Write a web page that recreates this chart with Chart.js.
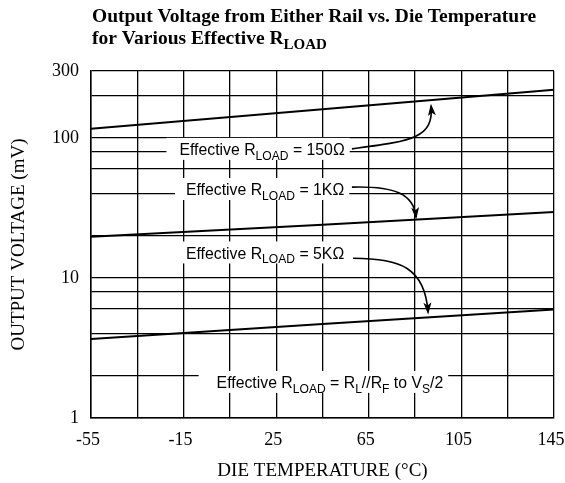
<!DOCTYPE html>
<html>
<head>
<meta charset="utf-8">
<script src="https://cdn.jsdelivr.net/npm/chart.js@4.4.0/dist/chart.umd.min.js"></script>
<style>
  body { margin: 0; background: #fff; }
  #wrap { width: 565px; height: 483px; }
</style>
</head>
<body>
<div id="wrap"><canvas id="railChart" width="565" height="483"></canvas></div>
<script>
// die temperature (°C) where each curve is read
const dieTemps = [-55, 45, 145];
// output voltage from either rail (mV)
const rload150 = [116, 160, 220];
const rload1k = [19.7, 24.0, 29.6];
const rload5k = [3.67, 4.68, 5.94];

const xGrid = [-55, -35, -15, 5, 25, 45, 65, 85, 105, 125, 145];
const xLabelled = [-55, -15, 25, 65, 105, 145];
const yGrid = [1, 2, 4, 6, 8, 10, 20, 40, 60, 80, 100, 200, 300];
const yLabelled = [1, 10, 100, 300];

const SERIF = '"Liberation Serif", "Times New Roman", serif';
const SANS = '"Liberation Sans", Arial, sans-serif';

// callout text pieces: [text, isSubscript]; positions in data units (°C, mV)
const callouts = [
  { parts: [['Effective R'], ['LOAD', true], [' = 150Ω']], at: [18.9, 83.4], pad: 13,
    arrow: [[57.7, 83.4], [82.8, 95.0], [93.2, 98.2], [91.9, 169.6]] },
  { parts: [['Effective R'], ['LOAD', true], [' = 1KΩ']], at: [20.2, 43.1], pad: 11,
    arrow: [[57.7, 44.5], [76.3, 45.3], [84.5, 39.7], [85.4, 27.1]] },
  { parts: [['Effective R'], ['LOAD', true], [' = 5KΩ']], at: [20.2, 15.2], pad: 11,
    arrow: [[58.2, 13.8], [78.5, 13.8], [89.3, 11.9], [90.6, 5.66]] },
  { parts: [['Effective R'], ['LOAD', true], [' = R'], ['L', true], ['//R'], ['F', true], [' to V'], ['S', true], ['/2']],
    at: [48.2, 1.81], pad: 18 }
];

// draws a run of text with subscripts (optionally squeezed sideways), returns its width
function drawParts(ctx, parts, x, y, size, weight, family, sx, measureOnly) {
  const fontOf = sub => `${weight} ${sub ? Math.round(size * 0.76) : size}px ${family}`;
  let cx = 0;
  ctx.save();
  ctx.translate(x, y);
  ctx.scale(sx, 1);
  ctx.textAlign = 'left';
  ctx.textBaseline = 'alphabetic';
  parts.forEach(([t, sub]) => {
    ctx.font = fontOf(sub);
    if (!measureOnly) ctx.fillText(t, cx, sub ? size * 0.27 : 0);
    cx += ctx.measureText(t).width;
  });
  ctx.restore();
  return cx * sx;
}

const calloutPlugin = {
  id: 'callouts',
  afterDraw(chart) {
    const ctx = chart.ctx;
    const xs = chart.scales.x, ys = chart.scales.y;
    const px = p => [xs.getPixelForValue(p[0]), ys.getPixelForValue(p[1])];
    ctx.save();
    ctx.fillStyle = '#000';

    // heading
    drawParts(ctx, [['Output Voltage from Either Rail vs. Die Temperature']], 92, 22, 19.5, 'bold', SERIF, 1);
    drawParts(ctx, [['for Various Effective R'], ['LOAD', true]], 92, 44, 19.5, 'bold', SERIF, 1);

    callouts.forEach(c => {
      const [cx, cy] = px(c.at);
      const size = 17, sx = 0.93;
      const w = drawParts(ctx, c.parts, 0, 0, size, 'normal', SANS, sx, true);
      const left = cx - w / 2;
      ctx.fillStyle = '#fff';
      ctx.fillRect(left - c.pad, cy - 11, w + c.pad + 5, 22);
      ctx.fillStyle = '#000';
      drawParts(ctx, c.parts, left, cy + size * 0.36, size, 'normal', SANS, sx);

      if (c.arrow) {
        const [p0, p1, p2, p3] = c.arrow.map(px);
        ctx.strokeStyle = '#000';
        ctx.lineWidth = 1.6;
        ctx.beginPath();
        ctx.moveTo(p0[0], p0[1]);
        ctx.bezierCurveTo(p1[0], p1[1], p2[0], p2[1], p3[0], p3[1]);
        ctx.stroke();
        const a = Math.atan2(p3[1] - p2[1], p3[0] - p2[0]);
        const len = 10, half = 4;
        ctx.beginPath();
        ctx.moveTo(p3[0] + Math.cos(a) * 2, p3[1] + Math.sin(a) * 2);
        ctx.lineTo(p3[0] - Math.cos(a) * len - Math.sin(a) * half, p3[1] - Math.sin(a) * len + Math.cos(a) * half);
        ctx.lineTo(p3[0] - Math.cos(a) * (len - 3), p3[1] - Math.sin(a) * (len - 3));
        ctx.lineTo(p3[0] - Math.cos(a) * len + Math.sin(a) * half, p3[1] - Math.sin(a) * len - Math.cos(a) * half);
        ctx.closePath();
        ctx.fill();
      }
    });
    ctx.restore();
  }
};

const makeSeries = values => ({
  data: dieTemps.map((t, i) => ({ x: t, y: values[i] })),
  borderColor: '#000',
  borderWidth: 2,
  pointRadius: 0,
  tension: 0,
  fill: false
});

new Chart(document.getElementById('railChart'), {
  type: 'line',
  data: { datasets: [makeSeries(rload150), makeSeries(rload1k), makeSeries(rload5k)] },
  options: {
    responsive: false,
    animation: false,
    layout: { padding: { top: 71, right: 11, bottom: 0, left: 0 } },
    plugins: { legend: { display: false }, tooltip: { enabled: false } },
    scales: {
      x: {
        type: 'linear',
        min: -55,
        max: 145,
        afterBuildTicks: ax => { ax.ticks = xGrid.map(v => ({ value: v })); },
        afterFit: ax => { ax.height = 65; ax.paddingLeft = 0; ax.paddingRight = 0; },
        ticks: {
          autoSkip: false,
          maxRotation: 0,
          color: '#000',
          padding: 11,
          labelOffset: -3,
          font: { family: SERIF, size: 18 },
          callback: v => xLabelled.includes(v) ? String(v) : ''
        },
        grid: { color: '#000', lineWidth: 1.3, drawTicks: false },
        border: { color: '#000', width: 1.5 },
        title: {
          display: true,
          text: 'DIE TEMPERATURE (°C)',
          color: '#000',
          font: { family: SERIF, size: 19 },
          padding: { top: 0, bottom: 1 }
        }
      },
      y: {
        type: 'logarithmic',
        min: 1,
        max: 300,
        afterBuildTicks: ax => { ax.ticks = yGrid.map(v => ({ value: v })); },
        afterFit: ax => { ax.width = 91; ax.paddingTop = 0; ax.paddingBottom = 0; },
        ticks: {
          autoSkip: false,
          color: '#000',
          padding: 12,
          font: { family: SERIF, size: 18 },
          callback: v => yLabelled.includes(v) ? String(v) : ''
        },
        grid: { color: '#000', lineWidth: 1.3, drawTicks: false },
        border: { color: '#000', width: 1.5 },
        title: {
          display: true,
          text: 'OUTPUT VOLTAGE (mV)',
          color: '#000',
          font: { family: SERIF, size: 19 },
          padding: { top: 8, bottom: 0 }
        }
      }
    }
  },
  plugins: [calloutPlugin]
});
</script>
</body>
</html>
